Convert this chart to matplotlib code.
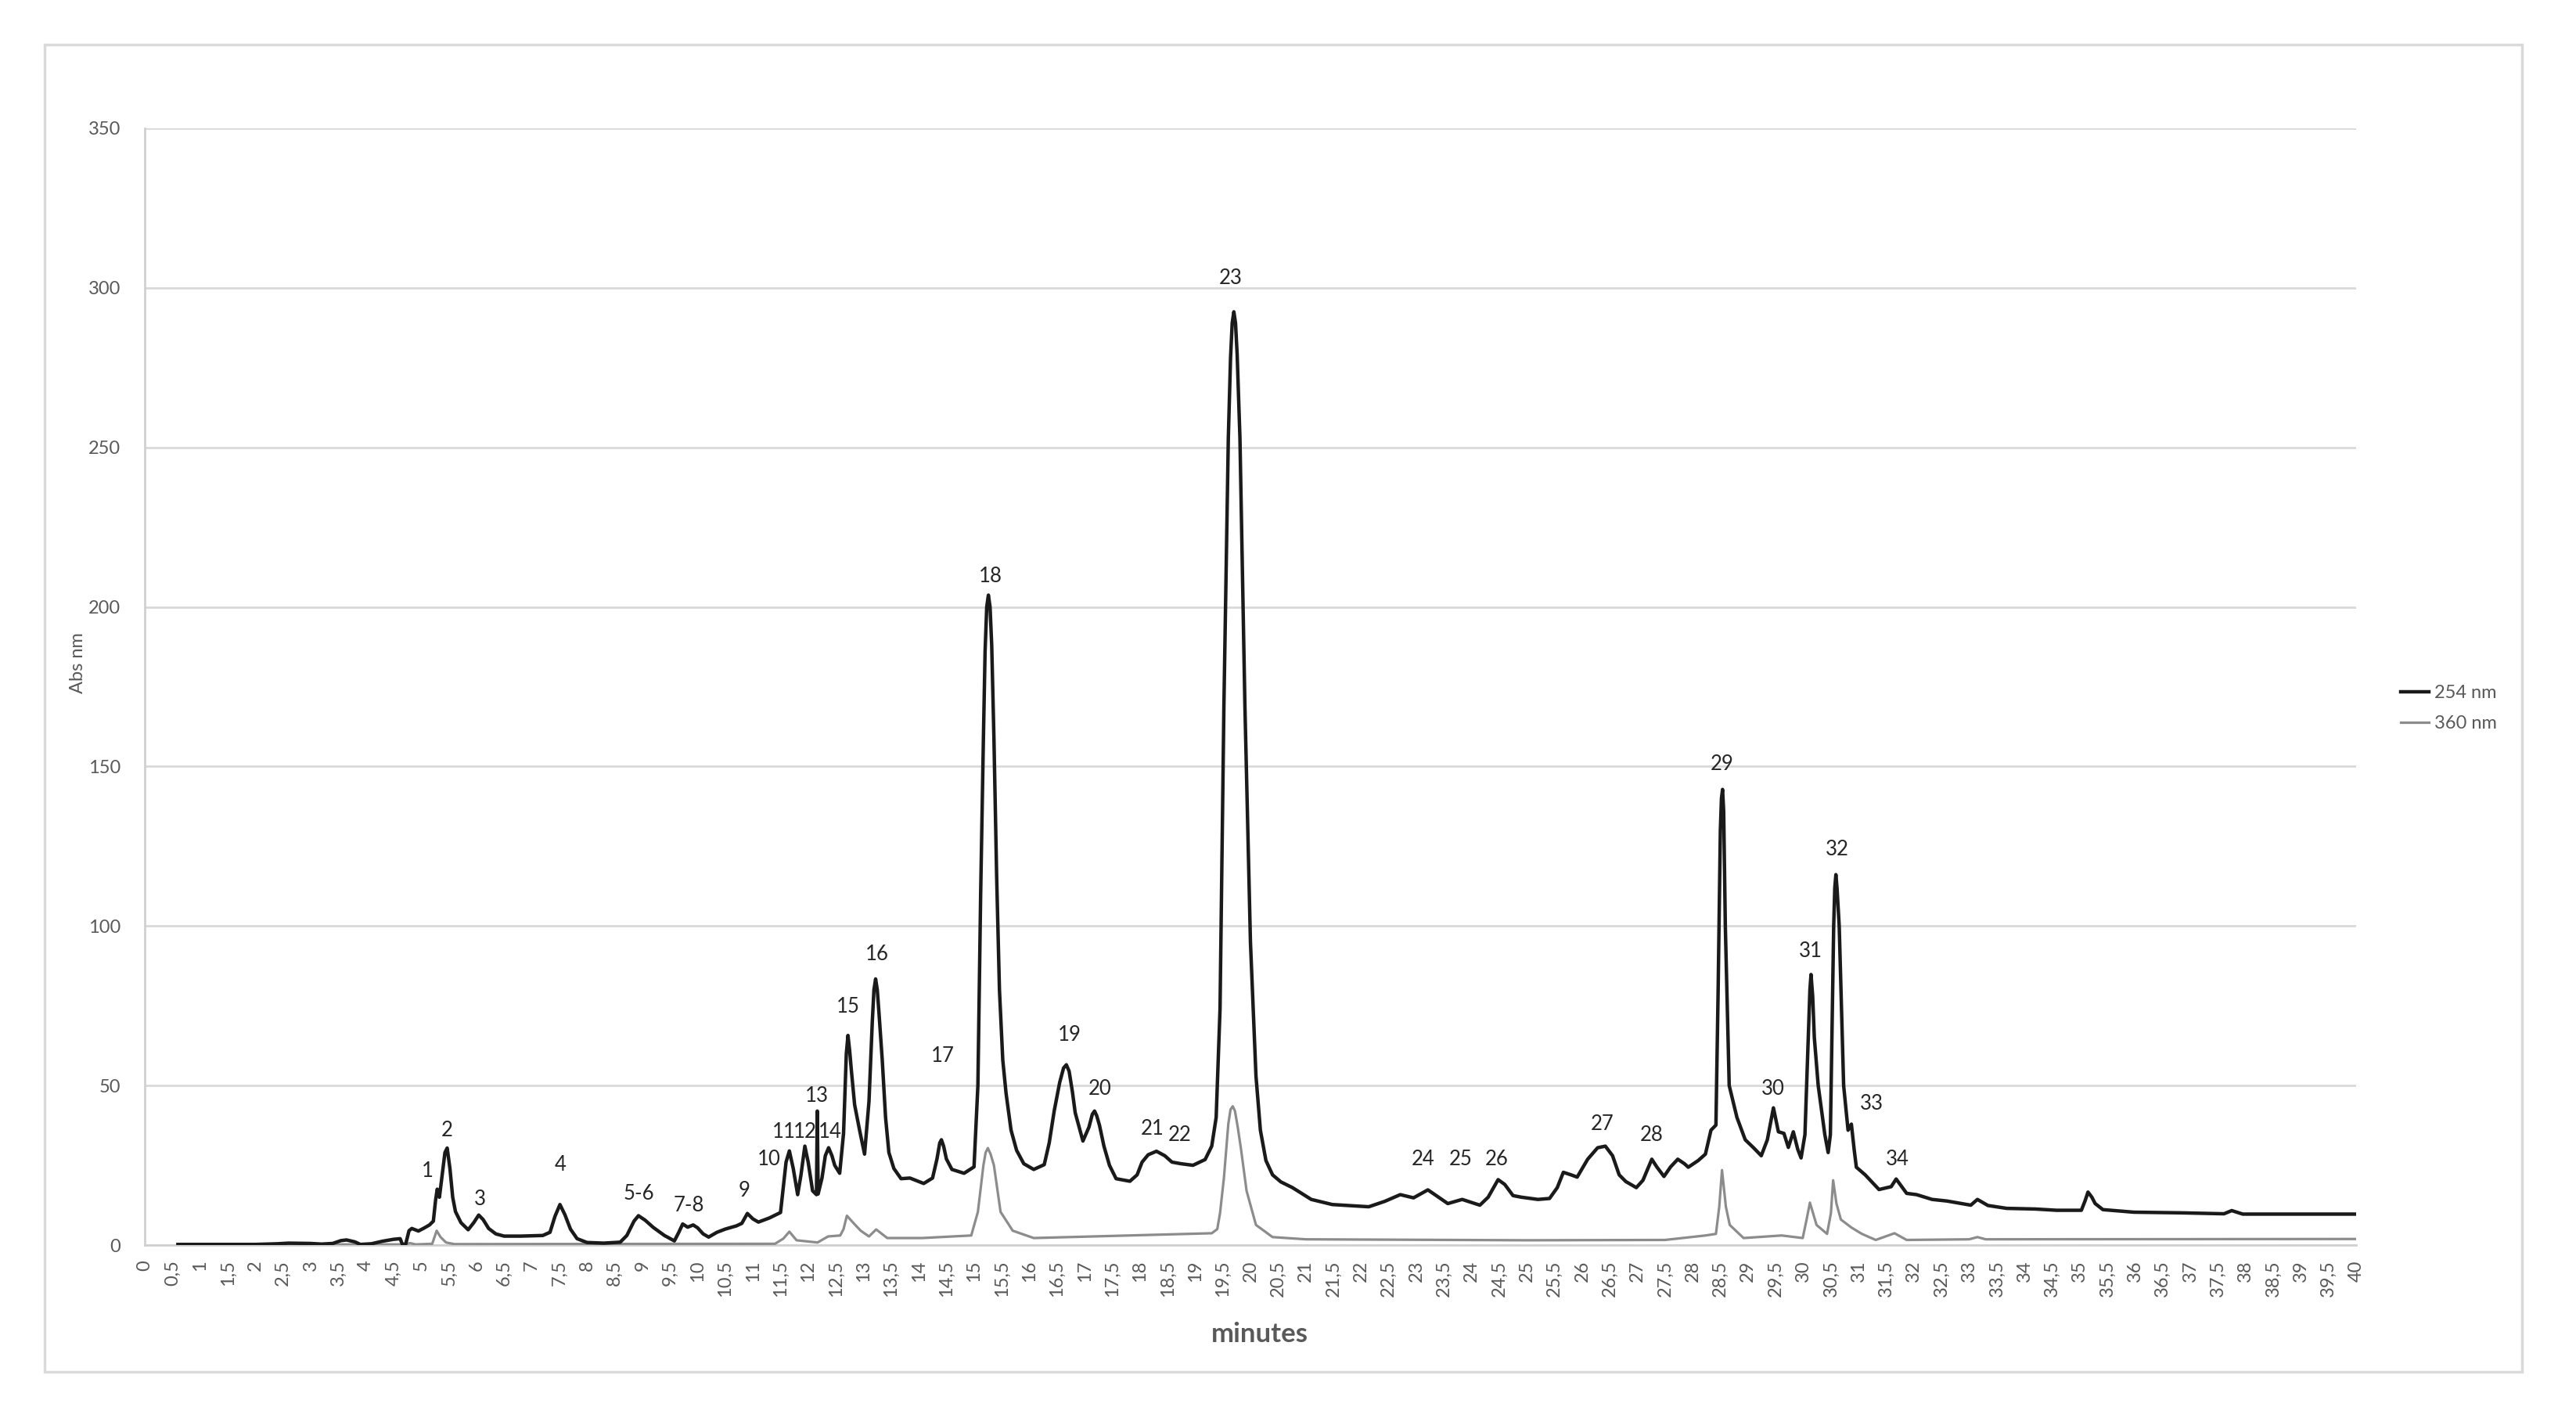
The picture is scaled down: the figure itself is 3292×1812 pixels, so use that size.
import matplotlib
matplotlib.use("Agg")
import matplotlib.pyplot as plt
import numpy as np

plt.rcParams["font.family"] = ["Lato", "DejaVu Sans"]

# 254 nm trace (black)
time_254 = [0.6, 1.0, 2.0, 2.4, 2.6, 3.0, 3.2, 3.4, 3.55, 3.65, 3.8, 3.9, 4.1, 4.3, 4.5, 4.62,
            4.66, 4.72, 4.78, 4.83, 4.95, 5.05, 5.15, 5.22, 5.26, 5.29, 5.33, 5.38, 5.43, 5.47,
            5.52, 5.57, 5.62, 5.72, 5.85, 5.95, 6.04, 6.12, 6.22, 6.35, 6.5, 6.8, 7.2, 7.33,
            7.42, 7.51, 7.6, 7.7, 7.82, 8.0, 8.3, 8.6, 8.72, 8.85, 8.93, 9.05, 9.2, 9.4, 9.58,
            9.66, 9.73, 9.82, 9.92, 10.0, 10.1, 10.2, 10.35, 10.5, 10.7, 10.8, 10.9, 11.0, 11.1,
            11.3, 11.5, 11.55, 11.6, 11.66, 11.73, 11.81, 11.87, 11.94, 12.0, 12.08, 12.15,
            12.165, 12.18, 12.25, 12.31, 12.37, 12.43, 12.48, 12.57, 12.64, 12.69, 12.72, 12.75,
            12.78, 12.84, 12.93, 13.02, 13.1, 13.16, 13.19, 13.22, 13.25, 13.28, 13.34, 13.4,
            13.46, 13.55, 13.68, 13.84, 14.09, 14.25, 14.33, 14.38, 14.41, 14.45, 14.5, 14.6,
            14.82, 15.0, 15.07, 15.12, 15.17, 15.2, 15.23, 15.26, 15.29, 15.32, 15.36, 15.41,
            15.46, 15.52, 15.58, 15.67, 15.77, 15.9, 16.08, 16.27, 16.36, 16.45, 16.55, 16.62,
            16.67, 16.72, 16.78, 16.83, 16.97, 17.08, 17.14, 17.18, 17.22, 17.27, 17.35, 17.45,
            17.57, 17.82, 17.95, 18.04, 18.15, 18.3, 18.45, 18.58, 18.74, 18.96, 19.18, 19.3,
            19.38, 19.45, 19.52, 19.6, 19.64, 19.67, 19.7, 19.73, 19.76, 19.81, 19.9, 20.0,
            20.1, 20.18, 20.28, 20.4, 20.55, 20.76, 21.1, 21.48, 21.95, 22.14, 22.43, 22.71,
            22.95, 23.21, 23.57, 23.83, 24.15, 24.3, 24.48, 24.6, 24.75, 24.9, 25.2, 25.41,
            25.55, 25.66, 25.8, 25.91, 26.1, 26.28, 26.42, 26.55, 26.67, 26.79, 26.98, 27.1,
            27.26, 27.35, 27.48, 27.6, 27.73, 27.85, 27.92, 28.1, 28.23, 28.33, 28.42, 28.46,
            28.5, 28.52, 28.54, 28.56, 28.59, 28.66, 28.8, 28.95, 29.1, 29.24, 29.35, 29.46,
            29.55, 29.65, 29.73, 29.82, 29.9, 29.96, 30.03, 30.08, 30.12, 30.14, 30.17, 30.2,
            30.27, 30.39, 30.45, 30.49, 30.55, 30.57, 30.59, 30.61, 30.65, 30.73, 30.81, 30.87,
            30.92, 30.96, 31.12, 31.37, 31.59, 31.68, 31.87, 32.05, 32.33, 32.6, 33.03, 33.15,
            33.34, 33.68, 34.19, 34.58, 35.03, 35.1, 35.15, 35.22, 35.28, 35.42, 35.98, 36.83,
            37.61, 37.75, 37.95, 40.0]
abs_254 = [0.2, 0.2, 0.2, 0.4, 0.6, 0.5, 0.3, 0.5, 1.4, 1.6, 1.0, 0.2, 0.4, 1.2, 1.8, 2.0,
           0.2, 0.3, 4.5, 5.2, 4.4, 5.3, 6.3, 7.5, 14, 17.5, 15, 22, 29, 30.4,
           24, 15, 10.5, 7, 4.8, 7, 9.4, 8, 5.2, 3.5, 2.8, 2.8, 3.0, 4,
           9, 12.7, 9.5, 5, 2, 0.8, 0.6, 0.9, 3, 7.5, 9.2, 7.8, 5.5, 3, 1.3,
           4, 6.6, 5.6, 6.3, 5.4, 3.5, 2.5, 4, 5, 6, 6.8, 9.9, 8.2, 7.2,
           8.5, 10.2, 18, 26, 29.5, 24, 15.8, 22, 31, 26, 17, 15.8,
           42, 16, 21, 28, 30.5, 28, 25, 22.5, 35, 60, 65.7, 61,
           55, 44, 36, 28.5, 45, 70, 80, 83.4, 80, 73, 58, 40,
           29, 24, 20.8, 21, 19.3, 21, 27, 32, 33, 31, 27, 23.7,
           22.5, 24.5, 50, 110, 159, 186, 200, 203.7, 200, 188, 159, 115,
           80, 58, 47.5, 36, 29.7, 25.5, 23.7, 25.2, 32, 42, 51, 55.5,
           56.5, 54.5, 48, 41.5, 32.6, 37, 41, 42, 40.5, 37.5, 31, 25,
           20.8, 20, 22, 26, 28.3, 29.4, 28, 26, 25.5, 25, 26.8, 31,
           40, 74, 169, 253, 278, 289, 292.5, 289, 279, 253, 169, 95,
           53, 36, 26.5, 22, 19.8, 18, 14.3, 12.7, 12.2, 12, 13.7, 15.8,
           14.8, 17.3, 13, 14.3, 12.5, 15, 20.5, 19, 15.5, 15, 14.3, 14.6,
           18, 22.8, 22, 21.3, 26.9, 30.5, 31, 28, 22, 19.9, 18, 20.3,
           26.9, 24.5, 21.5, 24.5, 26.9, 25.5, 24.4, 26.5, 28.5, 36, 37.6, 80,
           130, 140, 142.8, 136, 100, 50, 40, 33, 30.5, 28, 33, 43,
           35.5, 35, 30.6, 35.5, 30, 27.3, 34.6, 60, 80, 84.8, 78, 65,
           50, 34.6, 29, 34.6, 100, 112, 116.1, 112, 100, 50, 36, 37.9,
           30, 24.4, 22, 17.4, 18.3, 20.7, 16.2, 15.8, 14.3, 13.8, 12.5, 14.3,
           12.4, 11.5, 11.3, 10.9, 10.9, 14, 16.6, 15, 13, 11.1, 10.3, 10.1,
           9.8, 10.8, 9.7, 9.7]

# 360 nm trace (grey)
time_360 = [0.6, 4.7, 4.8, 4.9, 5.2, 5.28, 5.35, 5.45, 5.6, 11.4, 11.55, 11.66, 11.79, 12.17,
            12.36, 12.58, 12.64, 12.7, 12.83, 12.95, 13.1, 13.23, 13.43, 14.06, 14.95, 15.07,
            15.17, 15.21, 15.25, 15.3, 15.36, 15.48, 15.7, 16.08, 19.3, 19.4, 19.45, 19.52,
            19.6, 19.64, 19.68, 19.72, 19.77, 19.83, 19.93, 20.1, 20.4, 21.0, 25.0, 27.5,
            28.23, 28.42, 28.48, 28.53, 28.6, 28.67, 28.92, 29.61, 29.99, 30.06, 30.12, 30.24,
            30.43, 30.5, 30.54, 30.6, 30.68, 30.87, 31.06, 31.31, 31.65, 31.87, 33.0, 33.15,
            33.3, 40.0]
abs_360 = [0.2, 0.2, 0.6, 0.2, 0.4, 4.5, 2.5, 0.8, 0.3, 0.4, 2, 4.2, 1.5, 0.8,
           2.7, 3, 5, 9.2, 6.7, 4.5, 2.7, 4.9, 2.2, 2.2, 3, 10.4,
           25, 29, 30.4, 28.5, 25, 10.4, 4.5, 2.2, 3.7, 5, 10, 21,
           38, 42.5, 43.5, 42, 37, 30, 17, 6.3, 2.5, 1.8, 1.5, 1.6,
           3, 3.5, 12, 23.5, 12, 6.3, 2.2, 3, 2.2, 8, 13.3, 6.3,
           3.5, 10, 20.3, 13, 8, 5.5, 3.5, 1.6, 3.7, 1.6, 1.8, 2.5,
           1.8, 1.9]

# peak numbers and where their labels sit (minutes, Abs)
peak_labels = ["1", "2", "3", "4", "5-6", "7-8", "9", "10", "11", "12", "13", "14", "15",
               "16", "17", "18", "19", "20", "21", "22", "23", "24", "25", "26", "27", "28",
               "29", "30", "31", "32", "33", "34"]
label_t = [5.11, 5.47, 6.06, 7.52, 8.94, 9.84, 10.85, 11.29, 11.56, 11.95, 12.15, 12.39, 12.72,
           13.25, 14.44, 15.3, 16.73, 17.27, 18.22, 18.72, 19.64, 23.12, 23.8, 24.46, 26.36,
           27.25, 28.53, 29.45, 30.13, 30.61, 31.23, 31.71]
label_v = [23.2, 36, 14.4, 25.2, 16, 12.4, 17, 26.8, 35.5, 35.5, 46.8, 35.5, 74.6,
           91, 59.2, 209.5, 65.9, 48.9, 36.5, 34.5, 303, 26.8, 26.8, 26.8, 38,
           34.5, 150.8, 48.9, 92, 124, 44.3, 26.8]

W, H = 3292, 1812
fig = plt.figure(figsize=(W / 100, H / 100), dpi=100)
fig.patch.set_facecolor("white")

# outer chart-area border
frame = plt.Rectangle((57 / W, 1 - 1753 / H), (3223 - 57) / W, (1753 - 57) / H,
                      transform=fig.transFigure, fill=False, edgecolor="#d9d9d9", lw=2.5)
fig.patches.append(frame)

ax = fig.add_axes([185 / W, 1 - 1591 / H, (3011 - 185) / W, (1591 - 164) / H])
ax.plot(time_360, abs_360, color="#8c8c8c", lw=2.3, label="360 nm", zorder=3,
        solid_joinstyle="round")
ax.plot(time_254, abs_254, color="#1a1a1a", lw=3.2, label="254 nm", zorder=4,
        solid_joinstyle="round")

ax.set_xlim(0, 40)
ax.set_ylim(0, 350)
xt = np.arange(0, 40.01, 0.5)
ax.set_xticks(xt)
ax.set_xticklabels([("%g" % v).replace(".", ",") for v in xt], rotation=90,
                   fontsize=17, color="#595959")
ax.set_yticks(np.arange(0, 351, 50))
ax.set_yticklabels([str(v) for v in range(0, 351, 50)], fontsize=17, color="#595959")
ax.tick_params(axis="both", length=0)
ax.tick_params(axis="x", pad=14)
ax.tick_params(axis="y", pad=22)
ax.grid(axis="y", color="#d9d9d9", lw=2)
ax.set_axisbelow(True)
for s in ["top", "right"]:
    ax.spines[s].set_visible(False)
ax.spines["left"].set_color("#d0d0d0")
ax.spines["left"].set_linewidth(2)
ax.spines["bottom"].set_color("#d0d0d0")
ax.spines["bottom"].set_linewidth(2)

for lab, t, v in zip(peak_labels, label_t, label_v):
    ax.text(t, v, lab, ha="center", va="center", fontsize=18.5, color="#262626", zorder=5)

fig.text(100 / W, 1 - 847 / H, "Abs nm", rotation=90, ha="center", va="center",
         fontsize=17, color="#595959")
fig.text(1610 / W, 1 - 1705 / H, "minutes", ha="center", va="center",
         fontsize=25, fontweight="bold", color="#595959")

handles, labels = ax.get_legend_handles_labels()
leg = ax.legend(handles[::-1], labels[::-1], loc="center left",
                bbox_to_anchor=(3056 / W, 1 - 905 / H), bbox_transform=fig.transFigure,
                frameon=False, fontsize=17, handlelength=1.55, handletextpad=0.3,
                labelspacing=0.75, borderpad=0)
for txt in leg.get_texts():
    txt.set_color("#595959")

fig.savefig("out.png", dpi=100, facecolor="white")
